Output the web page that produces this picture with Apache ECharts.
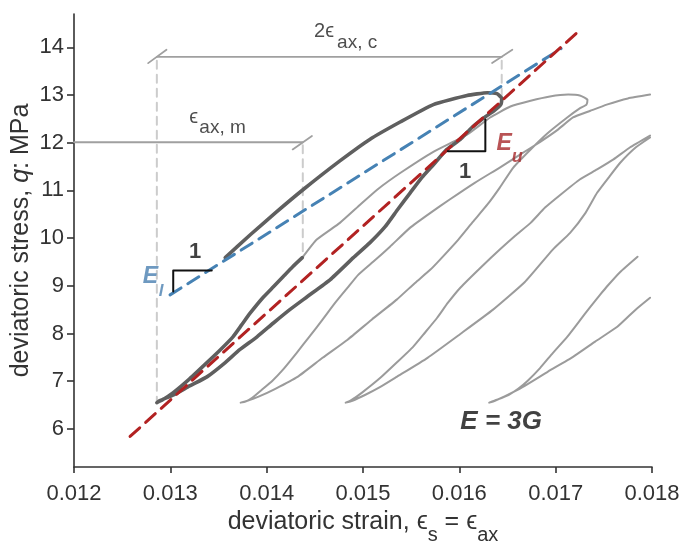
<!DOCTYPE html>
<html><head><meta charset="utf-8">
<script src="https://cdn.jsdelivr.net/npm/echarts@6/dist/echarts.min.js"></script>
<style>html,body{margin:0;padding:0;background:#fff}#c{width:683px;height:546px}</style>
</head><body><div id="c"></div>
<script>
const FONT = "'Liberation Sans', Arial, 'DejaVu Sans', sans-serif";

// ---- axis ticks ----
const xTicks = [0.012, 0.013, 0.014, 0.015, 0.016, 0.017, 0.018];
const yTicks = [6, 7, 8, 9, 10, 11, 12, 13, 14];

// ---- highlighted cycle (dark) : [strain, q MPa] ----
const darkCycle = [
[0.01357,9.59],[0.01383,10.07],[0.01409,10.53],[0.01438,11.02],[0.01476,11.62],[0.01507,12.07],[0.01539,12.44],[0.01573,12.80],[0.01608,12.99],[0.01629,13.05],[0.01639,13.03],[0.01644,12.93],[0.01643,12.80],[0.01636,12.67],
[0.01626,12.53],[0.01613,12.32],[0.01601,12.07],[0.01587,11.86],[0.01574,11.56],[0.01561,11.27],[0.01549,10.95],[0.01536,10.60],[0.01523,10.24],[0.01507,9.90],[0.01490,9.59],[0.01466,9.13],[0.01442,8.77],[0.01424,8.50],[0.01407,8.22],[0.01390,7.93],[0.01372,7.66],[0.01357,7.39],[0.01338,7.09],[0.01320,6.90],[0.01305,6.73],[0.01289,6.59],[0.01286,6.55],
[0.01292,6.61],[0.01303,6.76],[0.01320,7.05],[0.01338,7.39],[0.01352,7.66],[0.01365,7.93],[0.01374,8.18],[0.01383,8.43],[0.01396,8.75],[0.01407,8.98],[0.01417,9.19],[0.01427,9.40],[0.01437,9.59]
];

// ---- following cycles (gray) ----
const grayCycle1 = [
[0.01437,9.59],[0.01452,9.97],[0.01476,10.32],[0.01497,10.70],[0.01515,11.02],[0.01539,11.37],[0.01573,11.81],[0.01608,12.17],[0.01632,12.53],[0.01653,12.76],[0.01674,12.88],[0.01694,12.97],[0.01713,13.01],[0.01725,12.99],[0.01733,12.90],[0.01732,12.80],[0.01725,12.72],[0.01712,12.53],[0.01691,12.19],[0.01674,11.86],[0.01656,11.48],[0.01642,11.06],[0.01629,10.70],[0.01614,10.34],[0.01599,9.97],[0.01580,9.55],[0.01570,9.34],[0.01554,9.06],[0.01535,8.71],[0.01509,8.29],[0.01484,7.87],[0.01458,7.49],[0.01432,7.09],[0.01409,6.84],[0.01391,6.67],[0.01380,6.59],[0.01373,6.55],
[0.01378,6.57],[0.01385,6.65],[0.01395,6.82],[0.01406,7.01],[0.01416,7.22],[0.01431,7.59],[0.01445,7.95],[0.01458,8.29],[0.01471,8.64],[0.01484,8.96],[0.01495,9.23],[0.01512,9.53],[0.01528,9.82],[0.01549,10.22],[0.01570,10.53],[0.01590,10.81],[0.01616,11.16],[0.01642,11.48],[0.01663,11.75],[0.01684,12.02],[0.01702,12.27],[0.01718,12.53],[0.01736,12.67],[0.01753,12.80],[0.01775,12.93],[0.01798,13.01]
];
const grayCycle2 = [
[0.01798,12.11],[0.01783,11.90],[0.01767,11.58],[0.01755,11.27],[0.01743,10.95],[0.01731,10.53],[0.01715,10.11],[0.01697,9.76],[0.01668,9.08],[0.01635,8.50],[0.01601,7.99],[0.01567,7.49],[0.01535,7.09],[0.01518,6.88],[0.01502,6.71],[0.01489,6.59],[0.01482,6.55],
[0.01487,6.59],[0.01499,6.76],[0.01518,7.07],[0.01535,7.39],[0.01552,7.72],[0.01564,8.01],[0.01577,8.33],[0.01588,8.64],[0.01601,8.96],[0.01622,9.38],[0.01642,9.76],[0.01658,10.05],[0.01674,10.32],[0.01689,10.64],[0.01705,10.91],[0.01725,11.23],[0.01743,11.44],[0.01760,11.65],[0.01777,11.90],[0.01798,12.15]
];
const grayCycle3 = [
[0.01798,8.75],[0.01783,8.50],[0.01764,8.14],[0.01741,7.83],[0.01718,7.51],[0.01692,7.20],[0.01666,6.88],[0.01648,6.69],[0.01637,6.59],[0.01631,6.55],
[0.01639,6.61],[0.01651,6.71],[0.01661,6.84],[0.01671,7.01],[0.01684,7.28],[0.01697,7.59],[0.01712,7.93],[0.01725,8.27],[0.01736,8.56],[0.01746,8.81],[0.01753,8.98],[0.01767,9.29],[0.01785,9.61]
];

// ---- moduli ----
const loadingModulusLine = [[0.012997,8.81],[0.017057,13.975]];
const unloadingModulusLine = [[0.012582,5.84],[0.017223,14.31]];
const loadingTriangle = [[0.01303,8.88],[0.01303,9.32],[0.01343,9.32]];
const unloadingTriangle = [[0.01588,11.82],[0.01627,11.82],[0.01627,12.49]];

// ---- strain span annotations ----
const cycleSpanLine = [[0.01286,13.80],[0.01644,13.80]];
const cycleSpanTickL = [[0.01277,13.67],[0.01296,13.95]];
const cycleSpanTickR = [[0.01634,13.67],[0.01655,13.95]];
const meanSpanLine = [[0.01200,12.01],[0.014375,12.01]];
const meanSpanTick = [[0.01427,11.86],[0.01447,12.14]];
const guideLeft = [[0.01286,13.72],[0.01286,6.57]];
const guideRight = [[0.01644,13.72],[0.01644,12.97]];
const guideMid = [[0.014375,11.95],[0.014375,9.62]];

// ---- annotation texts ----
const noteTexts = ['1', 'E', 'l', 'E', 'u', '1', 'E = 3G', '2ϵ', 'ax, c', 'ϵ', 'ax, m'];
const noteAnchors = [[0.013257,9.71],[0.012794,9.19],[0.012903,8.875],[0.016465,11.99],[0.0166,11.71],[0.01606,11.38],[0.016434,6.15],[0.014596,14.34],[0.014939,14.09],[0.013241,12.53],[0.013542,12.31]];
const noteRoles = ['one','El','sub-l','Eu','sub-u','one','big','main','sub','main','sub'];

const roleStyle = {
  'one':   {fontSize:22, fontWeight:'bold', color:'#111'},
  'El':    {fontSize:23, fontWeight:'bold', fontStyle:'italic', color:'#4a80b0'},
  'sub-l': {fontSize:17, fontWeight:'bold', fontStyle:'italic', color:'#4a80b0'},
  'Eu':    {fontSize:23, fontWeight:'bold', fontStyle:'italic', color:'#a8282a'},
  'sub-u': {fontSize:18, fontWeight:'bold', fontStyle:'italic', color:'#a8282a'},
  'big':   {fontSize:26, fontWeight:'bold', fontStyle:'italic', color:'#111'},
  'main':  {fontSize:20, color:'#222'},
  'sub':   {fontSize:19, color:'#222'}
};

const GRAY = '#9b9b9b', DARK = '#5f5f5f';
function lineSeries(data, color, width, type, z, smooth) {
  return {type:'line', data, showSymbol:false, symbol:'none', animation:false, silent:true,
    smooth: smooth || false,
    z: z || 2, lineStyle:{color, width, type: type || 'solid', cap:'round', join:'round'}};
}

const series = [
  lineSeries(grayCycle1, GRAY, 2, 'solid', 2, 0.15),
  lineSeries(grayCycle2, GRAY, 2, 'solid', 2, 0.15),
  lineSeries(grayCycle3, GRAY, 2, 'solid', 2, 0.15),
  lineSeries(guideLeft, '#cccccc', 2, [8,6]),
  lineSeries(guideRight, '#cccccc', 2, [8,6]),
  lineSeries(guideMid, '#cccccc', 2, [8,6]),
  lineSeries(cycleSpanLine, '#a0a0a0', 1.8),
  lineSeries(cycleSpanTickL, '#a0a0a0', 1.8),
  lineSeries(cycleSpanTickR, '#a0a0a0', 1.8),
  lineSeries(meanSpanLine, '#a0a0a0', 1.8),
  lineSeries(meanSpanTick, '#a0a0a0', 1.8),
  lineSeries(darkCycle, DARK, 3.6, 'solid', 3, 0.15),
  lineSeries(loadingModulusLine, '#4682b4', 3, [13,8], 4),
  lineSeries(unloadingModulusLine, '#b22222', 3, [13,8], 5),
  lineSeries(loadingTriangle, '#111', 2, 'solid', 6),
  lineSeries(unloadingTriangle, '#111', 2, 'solid', 6),
  {
    type:'scatter', z:10, silent:true, animation:false, symbolSize:1,
    itemStyle:{color:'rgba(0,0,0,0)'},
    data: noteAnchors.map((p, i) => ({
      value: p,
      label: Object.assign({show:true, position:'inside', formatter: noteTexts[i],
        fontFamily: FONT, align:'center', verticalAlign:'middle'}, roleStyle[noteRoles[i]])
    }))
  }
];

const chart = echarts.init(document.getElementById('c'), null, {renderer:'canvas'});
chart.setOption({
  backgroundColor:'#fff',
  animation:false,
  grid:{left:74, right:31, top:14, bottom:79, containLabel:false, outerBoundsMode:'none'},
  xAxis:{
    type:'value', min:0.012, max:0.018,
    axisLine:{show:true, onZero:false, lineStyle:{color:'#333', width:1.6}},
    axisTick:{show:true, length:6, customValues:xTicks, lineStyle:{color:'#333', width:1.6}},
    axisLabel:{customValues:xTicks, formatter:v => v.toFixed(3), fontSize:22, color:'#333', margin:16, fontFamily:FONT},
    splitLine:{show:false},
    name:'{t|deviatoric strain, ϵ}{s|s}{t| = ϵ}{s|ax}',
    nameLocation:'middle', nameGap:26,
    nameTextStyle:{fontFamily:FONT, color:'#333', rich:{
      t:{fontSize:25, lineHeight:46, fontFamily:FONT, color:'#333'},
      s:{fontSize:20, lineHeight:20, verticalAlign:'bottom', fontFamily:FONT, color:'#333'}
    }}
  },
  yAxis:{
    type:'value', min:5.2, max:14.7,
    axisLine:{show:true, onZero:false, lineStyle:{color:'#333', width:1.6}},
    axisTick:{show:true, length:7, customValues:yTicks, lineStyle:{color:'#333', width:1.6}},
    axisLabel:{customValues:yTicks, fontSize:22, color:'#333', margin:10, fontFamily:FONT},
    splitLine:{show:false},
    name:'{t|deviatoric stress, }{q|q}{t|: MPa}',
    nameLocation:'middle', nameGap:40, nameRotate:90, nameMoveOverlap:false,
    nameTextStyle:{fontFamily:FONT, color:'#333', rich:{
      t:{fontSize:25, fontFamily:FONT, color:'#333'},
      q:{fontSize:25, fontStyle:'italic', fontFamily:FONT, color:'#333'}
    }}
  },
  series
});
</script></body></html>
